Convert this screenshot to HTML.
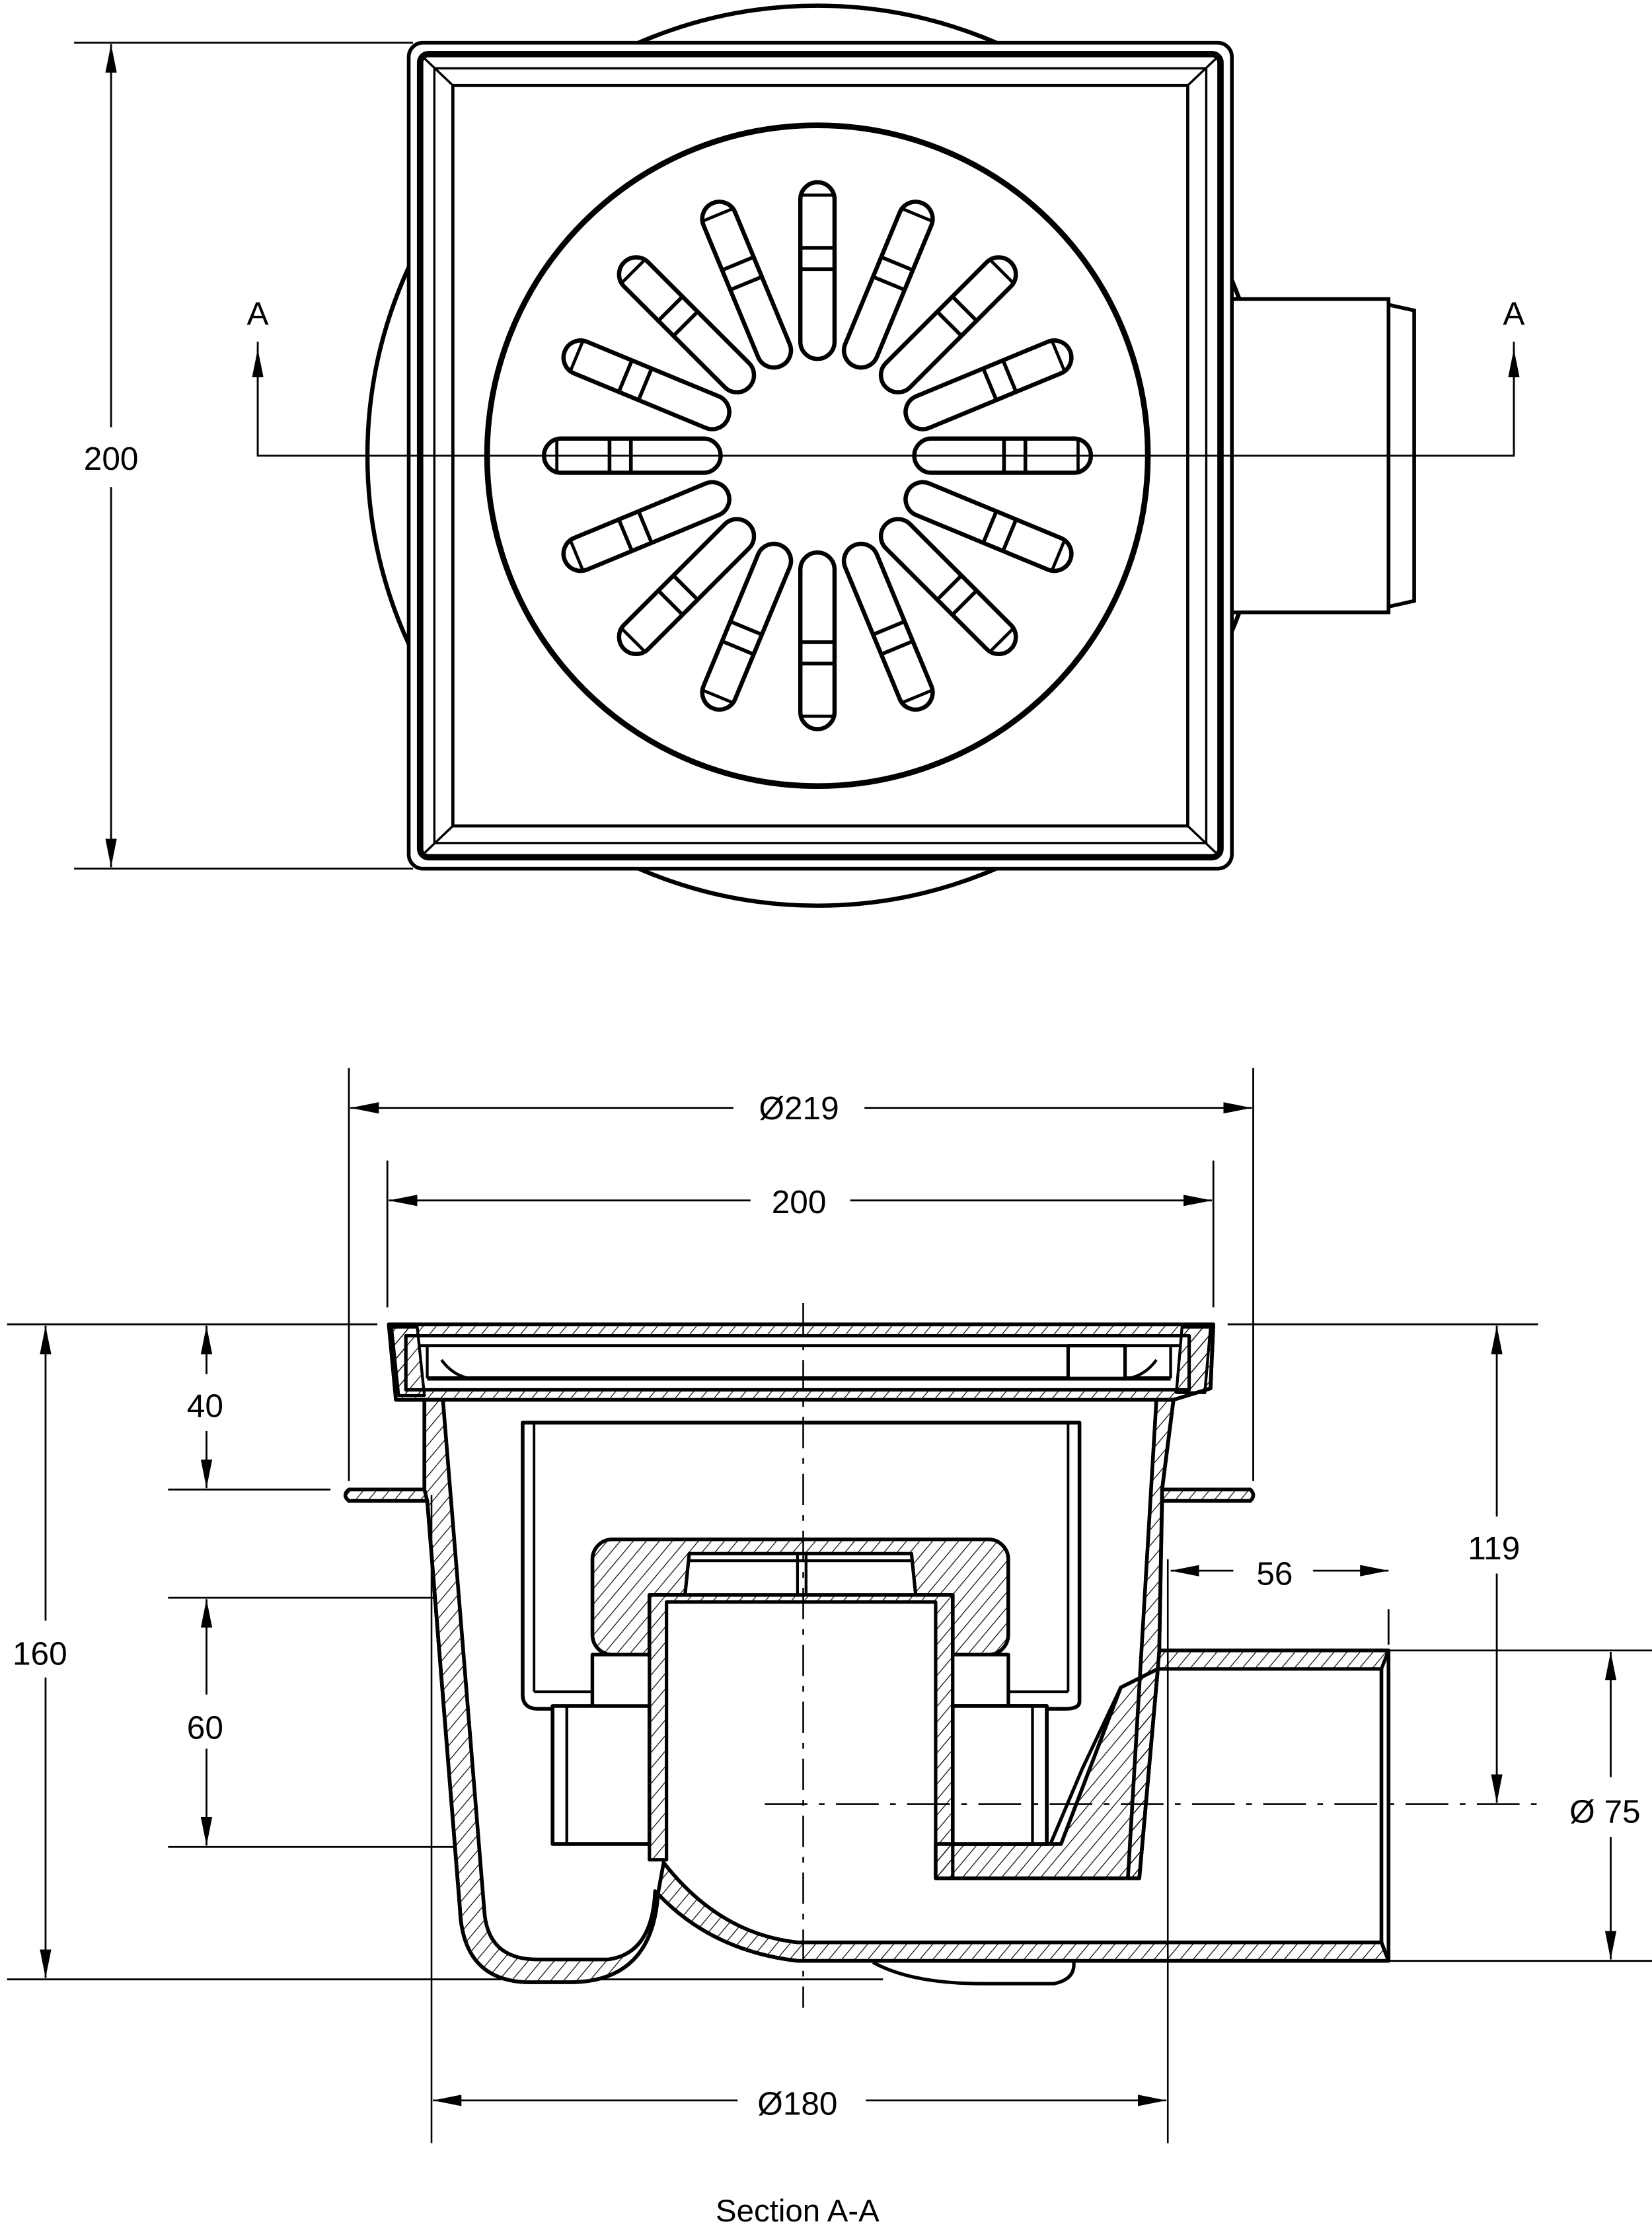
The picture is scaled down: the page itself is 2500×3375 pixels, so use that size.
<!DOCTYPE html>
<html><head><meta charset="utf-8"><style>
html,body{margin:0;padding:0;background:#fff}
svg{display:block}
text{font-family:"Liberation Sans",sans-serif;fill:#000}
</style></head><body>
<svg width="2500" height="3375" viewBox="0 0 1160 1566" xmlns="http://www.w3.org/2000/svg">
<defs>
<pattern id="h" width="7" height="7" patternUnits="userSpaceOnUse" patternTransform="rotate(40)">
<line x1="0" y1="0" x2="0" y2="7" stroke="#000" stroke-width="1.1"/>
</pattern>
<marker id="a" viewBox="0 0 20 8" refX="20" refY="4" markerWidth="20" markerHeight="8" markerUnits="userSpaceOnUse" orient="auto-start-reverse">
<path d="M0,0 L20,4 L0,8 z" fill="#000"/>
</marker>
<g id="slot">
<rect x="-12" y="-192" width="24" height="124" rx="12" fill="#fff" stroke="#000" stroke-width="3"/>
<line x1="-12" y1="-146" x2="12" y2="-146" stroke="#000" stroke-width="2.6"/>
<line x1="-12" y1="-131" x2="12" y2="-131" stroke="#000" stroke-width="2.6"/>
<line x1="-11" y1="-183" x2="11" y2="-183" stroke="#000" stroke-width="2.2"/>
</g>
</defs>

<!-- ============ TOP VIEW ============ -->
<g fill="none" stroke="#000">
<circle cx="574" cy="320" r="316" fill="#fff" stroke-width="3"/>
<rect x="860" y="210" width="115" height="220" fill="#fff" stroke-width="2.6"/>
<path d="M975,214 L993,218 L993,422 L975,426" stroke-width="2.6"/>
<rect x="287" y="30" width="578" height="580" rx="10" fill="#fff" stroke-width="2.6"/>
<rect x="295" y="38" width="562" height="564" rx="6" stroke-width="4.5"/>
<rect x="305" y="48" width="542" height="544" stroke-width="1.6"/>
<rect x="318" y="60" width="516" height="520" stroke-width="2.2"/>
<path d="M297,40 L318,60 M855,40 L834,60 M297,600 L318,580 M855,600 L834,580" stroke-width="1.6"/>
<circle cx="574" cy="320" r="232" fill="#fff" stroke-width="4"/>
</g>
<g transform="translate(574,320)">
<use href="#slot" transform="rotate(0)"/><use href="#slot" transform="rotate(22.5)"/>
<use href="#slot" transform="rotate(45)"/><use href="#slot" transform="rotate(67.5)"/>
<use href="#slot" transform="rotate(90)"/><use href="#slot" transform="rotate(112.5)"/>
<use href="#slot" transform="rotate(135)"/><use href="#slot" transform="rotate(157.5)"/>
<use href="#slot" transform="rotate(180)"/><use href="#slot" transform="rotate(202.5)"/>
<use href="#slot" transform="rotate(225)"/><use href="#slot" transform="rotate(247.5)"/>
<use href="#slot" transform="rotate(270)"/><use href="#slot" transform="rotate(292.5)"/>
<use href="#slot" transform="rotate(315)"/><use href="#slot" transform="rotate(337.5)"/>
</g>
<g stroke="#000" stroke-width="1.3" fill="none">
<polyline points="181,240 181,320 1063,320 1063,240" />
<line x1="181" y1="320" x2="181" y2="245" marker-end="url(#a)"/>
<line x1="1063" y1="320" x2="1063" y2="245" marker-end="url(#a)"/>
<line x1="52" y1="30" x2="290" y2="30"/>
<line x1="52" y1="610" x2="290" y2="610"/>
<line x1="78" y1="300" x2="78" y2="31" marker-end="url(#a)"/>
<line x1="78" y1="342" x2="78" y2="609" marker-end="url(#a)"/>
</g>
<text x="181" y="228" font-size="23" text-anchor="middle">A</text>
<text x="1063" y="228" font-size="23" text-anchor="middle">A</text>
<text x="78" y="330" font-size="23" text-anchor="middle">200</text>

<!-- ============ SECTION VIEW ============ -->
<g stroke="#000" stroke-width="1.3" fill="none">
<line x1="245" y1="750" x2="245" y2="1040"/>
<line x1="880" y1="750" x2="880" y2="1040"/>
<line x1="515" y1="778" x2="246" y2="778" marker-end="url(#a)"/>
<line x1="607" y1="778" x2="879" y2="778" marker-end="url(#a)"/>
<line x1="272" y1="815" x2="272" y2="918"/>
<line x1="852" y1="815" x2="852" y2="918"/>
<line x1="527" y1="843" x2="273" y2="843" marker-end="url(#a)"/>
<line x1="597" y1="843" x2="851" y2="843" marker-end="url(#a)"/>
<line x1="5" y1="930" x2="265" y2="930"/>
<line x1="862" y1="930" x2="1080" y2="930"/>
<line x1="5" y1="1390" x2="620" y2="1390"/>
<line x1="118" y1="1046" x2="232" y2="1046"/>
<line x1="118" y1="1122" x2="450" y2="1122"/>
<line x1="118" y1="1297" x2="385" y2="1297"/>
<line x1="32" y1="1138" x2="32" y2="931" marker-end="url(#a)"/>
<line x1="32" y1="1178" x2="32" y2="1389" marker-end="url(#a)"/>
<line x1="145" y1="965" x2="145" y2="931" marker-end="url(#a)"/>
<line x1="145" y1="1005" x2="145" y2="1045" marker-end="url(#a)"/>
<line x1="145" y1="1190" x2="145" y2="1123" marker-end="url(#a)"/>
<line x1="145" y1="1228" x2="145" y2="1296" marker-end="url(#a)"/>
<line x1="1051" y1="1065" x2="1051" y2="931" marker-end="url(#a)"/>
<line x1="1051" y1="1105" x2="1051" y2="1266" marker-end="url(#a)"/>
<line x1="975" y1="1130" x2="975" y2="1155"/>
<line x1="975" y1="1159" x2="1160" y2="1159"/>
<line x1="975" y1="1377" x2="1160" y2="1377"/>
<line x1="1131" y1="1248" x2="1131" y2="1160" marker-end="url(#a)"/>
<line x1="1131" y1="1290" x2="1131" y2="1376" marker-end="url(#a)"/>
<line x1="866" y1="1103" x2="822" y2="1103" marker-end="url(#a)"/>
<line x1="922" y1="1103" x2="975" y2="1103" marker-end="url(#a)"/>
<line x1="518" y1="1475" x2="304" y2="1475" marker-end="url(#a)"/>
<line x1="608" y1="1475" x2="819" y2="1475" marker-end="url(#a)"/>
</g>

<g stroke="#000" stroke-linejoin="round">
<!-- outer body silhouette -->
<path d="M273,930 L852,930 L850,975 L824,983 L816,1046 L878,1046 Q882,1050 878,1054 L816,1054 L814,1159 L975,1159 L975,1377 L560,1377 Q500,1370 462,1330 Q458,1392 400,1392 L369,1392 Q325,1390 323,1341 L300,1054 L245,1054 Q240,1050 245,1046 L298,1046 L298,983 L278,983 Z" fill="#fff" stroke-width="2.6"/>
<!-- bottom bulge -->
<path d="M613,1378 Q640,1393 690,1393 L740,1393 Q755,1390 754,1378" fill="none" stroke-width="2.4"/>
<!-- left wall hatched -->
<path d="M298,983 L311,983 L340,1341 Q342,1376 377,1376 L427,1376 Q458,1372 460,1328 L462,1330 Q458,1392 400,1392 L369,1392 Q325,1390 323,1341 L300,1054 L298,1046 Z" fill="url(#h)" stroke-width="2.6"/>
<!-- ears hatched -->
<path d="M245,1046 L298,1046 L300,1054 L245,1054 Q240,1050 245,1046 Z M816,1046 L878,1046 Q882,1050 878,1054 L816,1054 Z" fill="url(#h)" stroke-width="2.4"/>
<!-- right wall hatched -->
<path d="M812,983 L824,983 L816,1046 L814,1159 L813,1172 L800,1319 L792,1319 Z" fill="url(#h)" stroke-width="2.6"/>
<!-- pipe walls -->
<path d="M814,1159 L975,1159 L970,1172 L813,1172 Z" fill="url(#h)" stroke-width="2.4"/>
<line x1="970" y1="1172" x2="970" y2="1364" stroke-width="2.6"/>
<!-- trap bottom -->
<path d="M466,1308 Q505,1358 560,1364 L970,1364 L975,1377 L560,1377 Q500,1370 462,1330 Z" fill="url(#h)" stroke-width="2.6"/>
<!-- rim -->
<path d="M273,930 L852,930 L850,975 L824,983 L298,983 L278,983 Z" fill="url(#h)" stroke-width="2.6"/>
<rect x="285" y="938" width="550" height="38" fill="#fff" stroke-width="2.4"/>
<line x1="295" y1="945" x2="828" y2="945" stroke-width="2.2"/>
<line x1="300" y1="968" x2="822" y2="968" stroke-width="3"/>
<line x1="300" y1="976" x2="822" y2="976" stroke-width="2.2"/>
<rect x="750" y="945" width="40" height="23" fill="#fff" stroke-width="2.4"/>
<path d="M300,945 L300,968 M822,945 L822,968 M310,955 Q318,966 330,968 M812,955 Q804,966 792,968" fill="none" stroke-width="2"/>
<path d="M275,932 L293,932 L298,980 L280,980 Z M830,932 L850,932 L846,978 L826,978 Z" fill="url(#h)" stroke-width="2"/>
<!-- basket -->
<path d="M367,999 L758,999 L758,1195 Q758,1200 748,1200 L708,1200 L708,1162 L416,1162 L416,1200 L378,1200 Q367,1200 367,1190 Z" fill="#fff" stroke-width="2.6"/>
<path d="M375,999 L375,1188 M750,999 L750,1188 M375,1188 L416,1188 M708,1188 L750,1188" fill="none" stroke-width="1.8"/>
<!-- hatched cap -->
<rect x="416" y="1081" width="292" height="81" rx="14" fill="url(#h)" stroke-width="2.6"/>
<rect x="456" y="1120" width="213" height="45" fill="#fff" stroke="none"/>
<path d="M456,1165 L456,1120 L669,1120 L669,1165" fill="none" stroke-width="2.6"/>
<path d="M481,1120 L484,1091 L640,1091 L643,1120 Z" fill="#fff" stroke-width="2.4"/>
<path d="M484,1096 L640,1096 M560,1091 L560,1120 M566,1091 L566,1120" fill="none" stroke-width="2"/>
<!-- central tube -->
<path d="M456,1120 L456,1306 L468,1306 L468,1125 L657,1125 L657,1319 L669,1319 L669,1120 Z" fill="url(#h)" stroke-width="2.4"/>
<!-- side pieces -->
<rect x="388" y="1198" width="68" height="97" fill="#fff" stroke-width="2.6"/>
<line x1="398" y1="1198" x2="398" y2="1295" stroke-width="2"/>
<rect x="416" y="1162" width="40" height="36" fill="#fff" stroke-width="2.4"/>
<rect x="669" y="1198" width="66" height="97" fill="#fff" stroke-width="2.6"/>
<line x1="725" y1="1198" x2="725" y2="1295" stroke-width="2"/>
<rect x="669" y="1162" width="39" height="36" fill="#fff" stroke-width="2.4"/>
<!-- wedge + bottom -->
<path d="M787,1185 L797,1180 L813,1172 L800,1319 L657,1319 L657,1295 L745,1295 Z" fill="url(#h)" stroke-width="2.6"/>
<rect x="669" y="1198" width="66" height="97" fill="#fff" stroke-width="2.6"/>
<line x1="725" y1="1198" x2="725" y2="1295" stroke-width="2"/>
<path d="M787,1185 L760,1242 L738,1294" fill="none" stroke-width="2.4"/>
</g>
<g stroke="#000" stroke-width="1.2" fill="none">
<line x1="564" y1="915" x2="564" y2="1410" stroke-dasharray="22,7,4,7"/>
<line x1="537" y1="1267" x2="1080" y2="1267" stroke-dasharray="30,8,4,8"/>
<line x1="820" y1="1095" x2="820" y2="1505"/>
<line x1="303" y1="1050" x2="303" y2="1505"/>
</g>

<g font-size="23" text-anchor="middle">
<text x="561" y="786">Ø219</text>
<text x="561" y="852">200</text>
<text x="28" y="1169">160</text>
<text x="144" y="995">40</text>
<text x="144" y="1221">60</text>
<text x="1049" y="1095">119</text>
<text x="895" y="1113">56</text>
<text x="1127" y="1280">Ø 75</text>
<text x="560" y="1485">Ø180</text>
<text x="560" y="1560" font-size="22">Section A-A</text>
</g>
</svg>
</body></html>
